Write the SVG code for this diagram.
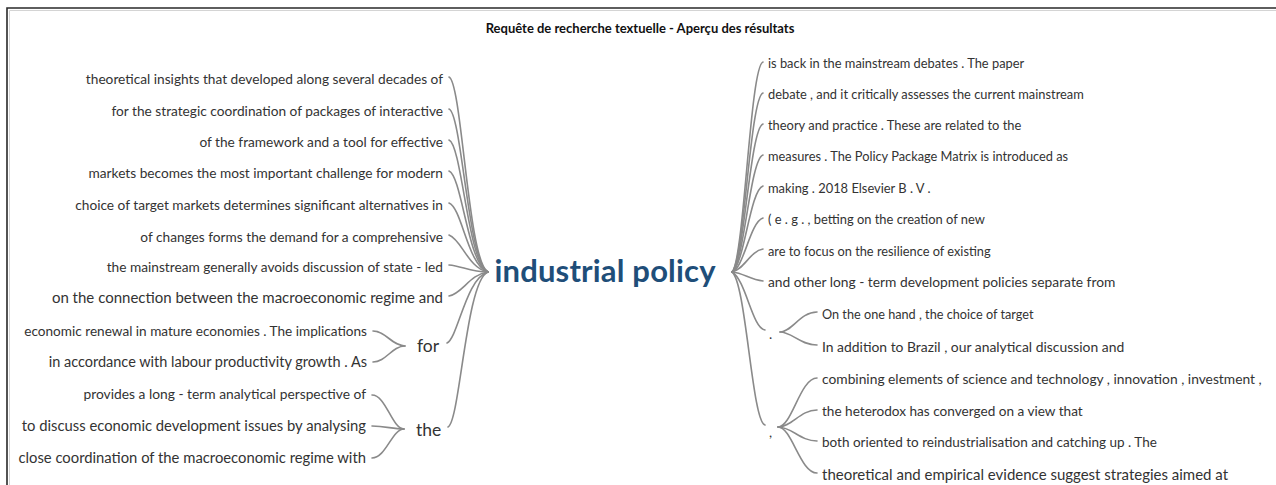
<svg xmlns="http://www.w3.org/2000/svg" width="1276" height="485" viewBox="0 0 1276 485">
<style>
.t{font-family:Lato,"Liberation Sans",sans-serif;font-size:13.7px;fill:#333}
.l{text-anchor:end}
.c{fill:none;stroke:#8a8a8a;stroke-width:1.6;stroke-linecap:round}
.w{font-family:Lato,"Liberation Sans",sans-serif;font-size:17.5px;fill:#333}
</style>
<rect x="0" y="0" width="1276" height="485" fill="#fff"/>
<g id="frame">
<path d="M7 485 V8 H1276" fill="none" stroke="#2a2a2a" stroke-width="1.6"/>
<path d="M9.5 485 V10.5 H1276" fill="none" stroke="#d4d4d4" stroke-width="1"/>
</g>
<g id="title"><text x="640" y="33" text-anchor="middle" style="font-family:Lato,'Liberation Sans',sans-serif;font-size:13px;font-weight:bold;fill:#111">Requête de recherche textuelle - Aperçu des résultats</text></g>
<g id="connectors">
<path class="c" d="M449 77 C462 82 468 262 488 272"/>
<path class="c" d="M449 109 C462 114 468 263 488 272"/>
<path class="c" d="M449 140 C462 145 468 264 488 272"/>
<path class="c" d="M449 171 C462 176 468 265 488 272"/>
<path class="c" d="M449 203 C462 208 468 266 488 272"/>
<path class="c" d="M449 235 C462 240 468 268 488 272"/>
<path class="c" d="M449 265 C462 266 470 272 488 272"/>
<path class="c" d="M449 296 C462 294 470 274 488 272"/>
<path class="c" d="M447 343 C458 338 466 278 488 272"/>
<path class="c" d="M448 427 C460 422 466 280 488 272"/>
<path class="c" d="M373 331 C386 331 392 346 405 346"/>
<path class="c" d="M373 362 C386 362 392 346 405 346"/>
<path class="c" d="M372 395 C386 395 392 429 404 429"/>
<path class="c" d="M372 426 C386 426 392 429 404 429"/>
<path class="c" d="M372 458 C386 458 392 429 404 429"/>
<path class="c" d="M763 62 C750 66 744 262 732 272"/>
<path class="c" d="M763 93 C750 97 744 263 732 272"/>
<path class="c" d="M763 124 C750 128 744 264 732 272"/>
<path class="c" d="M763 155 C750 159 744 265 732 272"/>
<path class="c" d="M763 186 C750 190 744 266 732 272"/>
<path class="c" d="M763 218 C750 222 744 268 732 272"/>
<path class="c" d="M763 249 C750 251 744 270 732 272"/>
<path class="c" d="M763 281 C750 280 744 273 732 272"/>
<path class="c" d="M765 330 C752 328 746 280 732 272"/>
<path class="c" d="M765 425 C752 422 746 282 732 272"/>
<path class="c" d="M780 332 C792 332 800 312 817 312"/>
<path class="c" d="M780 332 C792 332 800 345 817 345"/>
<path class="c" d="M778 427 C792 427 800 378 817 378"/>
<path class="c" d="M778 427 C792 427 800 410 817 410"/>
<path class="c" d="M778 427 C792 427 800 441 817 441"/>
<path class="c" d="M778 427 C792 427 800 473 817 473"/>
</g>
<g id="center"><text x="605" y="282" text-anchor="middle" textLength="221" style="font-family:Lato,'Liberation Sans',sans-serif;font-size:31px;font-weight:bold;fill:#1f4e79">industrial policy</text></g>
<g id="left">
<text class="t l" x="443" y="84">theoretical insights that developed along several decades of</text>
<text class="t l" x="443" y="116">for the strategic coordination of packages of interactive</text>
<text class="t l" x="443" y="147">of the framework and a tool for effective</text>
<text class="t l" x="443" y="178">markets becomes the most important challenge for modern</text>
<text class="t l" x="443" y="210">choice of target markets determines significant alternatives in</text>
<text class="t l" x="443" y="242">of changes forms the demand for a comprehensive</text>
<text class="t l" x="443" y="272">the mainstream generally avoids discussion of state - led</text>
<text class="t l" x="443" y="303" style="font-size:15px">on the connection between the macroeconomic regime and</text>
<text class="t l" x="367" y="336" style="font-size:13.6px">economic renewal in mature economies . The implications</text>
<text class="t l" x="367" y="367" style="font-size:14.5px">in accordance with labour productivity growth . As</text>
<text class="t l" x="366" y="399" style="font-size:13.8px">provides a long - term analytical perspective of</text>
<text class="t l" x="366" y="431" style="font-size:14.8px">to discuss economic development issues by analysing</text>
<text class="t l" x="366" y="463" style="font-size:14.8px">close coordination of the macroeconomic regime with</text>
</g>
<g id="for"><text class="w" x="417" y="352">for</text></g>
<g id="the"><text class="w" x="416" y="436">the</text></g>
<g id="right">
<text class="t" x="768" y="68" style="font-size:12.85px">is back in the mainstream debates . The paper</text>
<text class="t" x="768" y="99" style="font-size:12.85px">debate , and it critically assesses the current mainstream</text>
<text class="t" x="768" y="130" style="font-size:12.9px">theory and practice . These are related to the</text>
<text class="t" x="768" y="161" style="font-size:12.8px">measures . The Policy Package Matrix is introduced as</text>
<text class="t" x="768" y="193" style="font-size:12.9px">making . 2018 Elsevier B . V .</text>
<text class="t" x="768" y="224" style="font-size:12.9px">( e . g . , betting on the creation of new</text>
<text class="t" x="768" y="256" style="font-size:12.8px">are to focus on the resilience of existing</text>
<text class="t" x="768" y="287" style="font-size:13.8px">and other long - term development policies separate from</text>
<text class="t" x="822" y="319" style="font-size:12.7px">On the one hand , the choice of target</text>
<text class="t" x="822" y="352" style="font-size:13.9px">In addition to Brazil , our analytical discussion and</text>
<text class="t" x="822" y="384" style="font-size:13.8px">combining elements of science and technology , innovation , investment ,</text>
<text class="t" x="822" y="416" style="font-size:13.6px">the heterodox has converged on a view that</text>
<text class="t" x="822" y="447" style="font-size:13.5px">both oriented to reindustrialisation and catching up . The</text>
<text class="t" x="822" y="480" style="font-size:15px">theoretical and empirical evidence suggest strategies aimed at</text>
</g>
<g id="dot"><text class="t" x="769" y="339">.</text></g>
<g id="comma"><text class="t" x="769" y="437">,</text></g>
</svg>
